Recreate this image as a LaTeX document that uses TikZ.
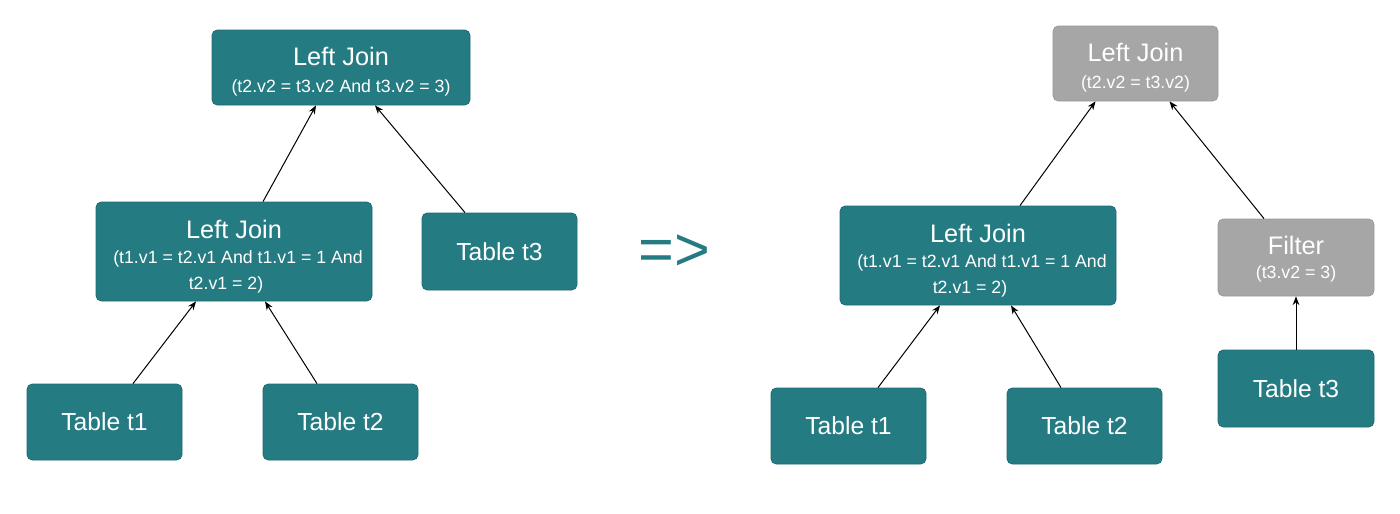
\documentclass[tikz,border=0pt]{standalone}
\usepackage{fontspec}
\setmainfont{Liberation Sans}
\usetikzlibrary{arrows.meta}
\definecolor{teal1}{HTML}{257B82}
\definecolor{tealborder}{HTML}{1E6A70}
\definecolor{gray1}{HTML}{A6A6A6}
\definecolor{grayborder}{HTML}{9A9A9A}
\newcommand{\hd}{\fontsize{19}{21}\selectfont}
\newcommand{\sm}{\fontsize{13.3}{15}\selectfont}
\tikzset{
  tealbox/.style={draw=tealborder, fill=teal1, line width=0.6pt, rounded corners=4pt, text=white, align=center, inner sep=0pt},
  graybox/.style={draw=grayborder, fill=gray1, line width=0.6pt, rounded corners=4pt, text=white, align=center, inner sep=0pt},
  arr/.style={draw=black, line width=0.75pt, -{Stealth[length=6.5pt,width=5pt]}},
  big/.style={font=\fontsize{18.5}{20}\selectfont},
}
\begin{document}
\begin{tikzpicture}[x=0.75pt,y=-0.75pt]
\useasboundingbox (0,0) rectangle (1400,514);
% left side
\node[tealbox, minimum width=258*0.75pt, minimum height=75*0.75pt] (ljA) at (341,67.5)
  {\hd\rule{0pt}{20pt}Left Join\\[8.5pt]\sm (t2.v2 = t3.v2 And t3.v2 = 3)};
\node[tealbox, minimum width=276*0.75pt, minimum height=99*0.75pt] (ljB) at (234,251.5)
  {\hd\rule{0pt}{21.5pt}Left Join\\[7pt]\sm\kern6pt(t1.v1 = t2.v1 And t1.v1 = 1 And\\[6.5pt]\sm t2.v1 = 2)\kern12pt};
\node[tealbox, minimum width=155*0.75pt, minimum height=77*0.75pt, big] (t3A) at (499.5,251.5) {Table t3};
\node[tealbox, minimum width=155*0.75pt, minimum height=76*0.75pt, big] (t1A) at (104.5,422) {Table t1};
\node[tealbox, minimum width=155*0.75pt, minimum height=76*0.75pt, big] (t2A) at (340.5,422) {Table t2};
\draw[arr] ([xshift=28.5*0.75pt]t1A.north) -- ([xshift=-38*0.75pt]ljB.south);
\draw[arr] ([xshift=-23.5*0.75pt]t2A.north) -- ([xshift=31*0.75pt]ljB.south);
\draw[arr] ([xshift=29*0.75pt]ljB.north) -- ([xshift=-25*0.75pt]ljA.south);
\draw[arr] ([xshift=-34.5*0.75pt]t3A.north) -- ([xshift=34*0.75pt]ljA.south);
% arrow sign
\node[text=teal1, font=\fontsize{46}{50}\selectfont, inner sep=0pt] (imp) at (674,253) {=>};
% right side
\node[graybox, minimum width=165*0.75pt, minimum height=75*0.75pt] (ljC) at (1135.5,63.5)
  {\hd\rule{0pt}{20pt}Left Join\\[8.5pt]\sm (t2.v2 = t3.v2)};
\node[tealbox, minimum width=276*0.75pt, minimum height=99*0.75pt] (ljD) at (978,255.5)
  {\hd\rule{0pt}{21.5pt}Left Join\\[7pt]\sm\kern6pt(t1.v1 = t2.v1 And t1.v1 = 1 And\\[6.5pt]\sm t2.v1 = 2)\kern12pt};
\node[graybox, minimum width=156*0.75pt, minimum height=77*0.75pt] (flt) at (1296,257.5)
  {\hd\rule{0pt}{16pt}Filter\\[5.5pt]\sm (t3.v2 = 3)};
\node[tealbox, minimum width=156*0.75pt, minimum height=77*0.75pt, big] (t3B) at (1296,388.5) {Table t3};
\node[tealbox, minimum width=155*0.75pt, minimum height=76*0.75pt, big] (t1B) at (848.5,426) {Table t1};
\node[tealbox, minimum width=155*0.75pt, minimum height=76*0.75pt, big] (t2B) at (1084.5,426) {Table t2};
\draw[arr] ([xshift=29.5*0.75pt]t1B.north) -- ([xshift=-38*0.75pt]ljD.south);
\draw[arr] ([xshift=-23.5*0.75pt]t2B.north) -- ([xshift=33*0.75pt]ljD.south);
\draw[arr] ([xshift=42*0.75pt]ljD.north) -- ([xshift=-40*0.75pt]ljC.south);
\draw[arr] ([xshift=-32*0.75pt]flt.north) -- ([xshift=34*0.75pt]ljC.south);
\draw[arr] (t3B.north) -- (flt.south);
\end{tikzpicture}
\end{document}
